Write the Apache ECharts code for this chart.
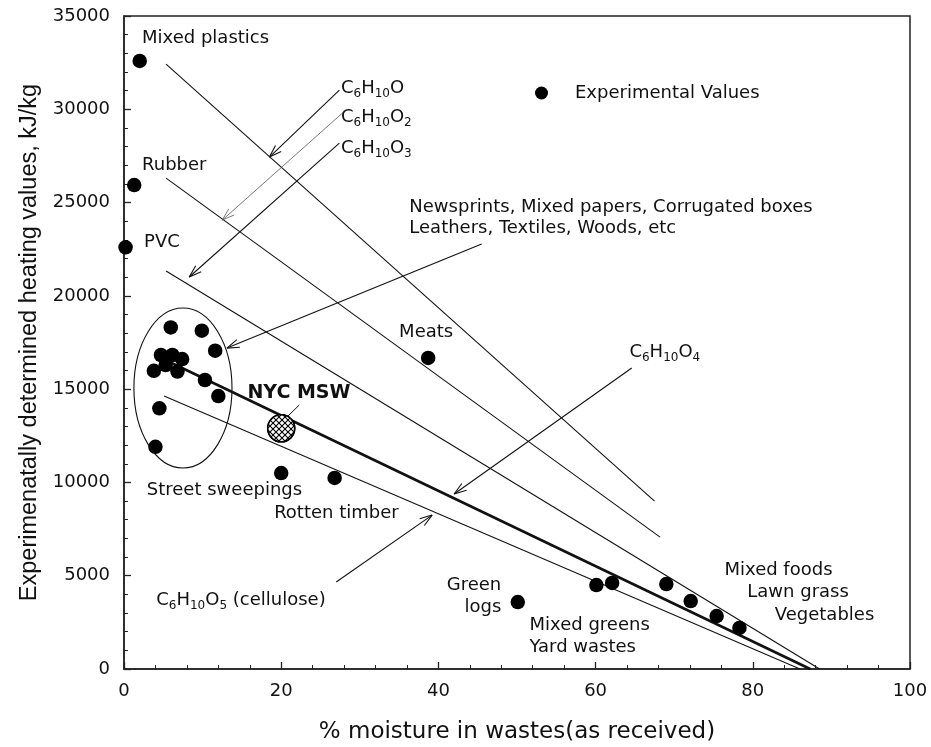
<!DOCTYPE html>
<html><head><meta charset="utf-8">
<script src="https://cdn.jsdelivr.net/npm/echarts@6/dist/echarts.min.js"></script>
<style>html,body{margin:0;padding:0;background:#fff}#c{width:931px;height:747px}</style>
</head><body><div id="c"></div>
<script>
// ---- data (moisture %, heating value kJ/kg) ----
const experimentalValues = [
  [2.0, 32590], [1.3, 25940], [0.2, 22600],
  [5.95, 18310], [9.9, 18130], [11.6, 17060],
  [4.7, 16830], [6.15, 16830], [7.4, 16610], [3.8, 15980], [5.3, 16290], [6.8, 15940],
  [10.3, 15490], [12.0, 14630], [4.5, 13970], [4.0, 11910],
  [38.7, 16670], [20.0, 10500], [26.8, 10240], [50.1, 3590],
  [60.1, 4500], [62.1, 4610], [69.0, 4555], [72.1, 3640], [75.4, 2840], [78.3, 2200]
];
const nycMsw = [[20.0, 12900]];
const lineC6H10O  = [[5.35, 32420], [67.5, 9000]];
const lineC6H10O2 = [[5.35, 26310], [68.2, 7070]];
const lineC6H10O3 = [[5.35, 21330], [88.5, 0]];
const lineC6H10O4 = [[5.0, 16615], [87.3, 0]];
const lineC6H10O5 = [[5.1, 14630], [86.0, 0]];
const xTickLabels = [0, 20, 40, 60, 80, 100];
const yTickLabels = [0, 5000, 10000, 15000, 20000, 25000, 30000, 35000];

const FONT = 'DejaVu Sans';
const chart = echarts.init(document.getElementById('c'), null, {renderer: 'canvas'});

// cross-hatch pattern for NYC MSW
const pc = document.createElement('canvas');
pc.width = 6; pc.height = 6;
const g = pc.getContext('2d');
g.fillStyle = '#fff'; g.fillRect(0, 0, 6, 6);
g.strokeStyle = '#000'; g.lineWidth = 1.1;
g.beginPath(); g.moveTo(0, 0); g.lineTo(6, 6); g.moveTo(6, 0); g.lineTo(0, 6); g.stroke();

function lineSeries(name, data, width) {
  return {
    name: name, type: 'line', data: data, symbol: 'none', silent: true,
    lineStyle: {color: '#111', width: width}, z: 2
  };
}

chart.setOption({
  animation: false,
  backgroundColor: '#fff',
  grid: {left: 124, top: 16, right: 21, bottom: 78, outerBoundsMode: 'none', containLabel: false,
    show: true, borderColor: '#222', borderWidth: 1.5, backgroundColor: 'transparent'},
  legend: {
    data: ['Experimental Values'], left: 530, top: 79, icon: 'circle', itemWidth: 13, itemHeight: 13,
    textStyle: {fontFamily: FONT, fontSize: 18, color: '#111', padding: [0, 0, 0, 22]}
  },
  xAxis: {
    type: 'value', min: 0, max: 100, interval: 20,
    name: '% moisture in wastes(as received)', nameLocation: 'middle', nameGap: 52,
    nameTextStyle: {fontFamily: FONT, fontSize: 23, color: '#111'},
    axisLine: {lineStyle: {color: '#222', width: 1.5}},
    axisTick: {inside: true, length: 7, lineStyle: {color: '#222', width: 1.3}},
    minorTick: {show: true, splitNumber: 5, length: 4, lineStyle: {color: '#222', width: 1}},
    splitLine: {show: false},
    axisLabel: {fontFamily: FONT, fontSize: 18, color: '#111', margin: 13,
      formatter: v => xTickLabels.indexOf(v) >= 0 ? String(v) : ''}
  },
  yAxis: {
    type: 'value', min: 0, max: 35000, interval: 5000,
    name: 'Experimenatally determined heating values, kJ/kg', nameLocation: 'middle', nameGap: 81,
    nameTextStyle: {fontFamily: 'Liberation Sans', fontSize: 23.5, color: '#111'},
    axisLine: {lineStyle: {color: '#222', width: 1.5}},
    axisTick: {inside: true, length: 7, lineStyle: {color: '#222', width: 1.3}},
    minorTick: {show: true, splitNumber: 5, length: 4, lineStyle: {color: '#222', width: 1}},
    splitLine: {show: false},
    axisLabel: {fontFamily: FONT, fontSize: 18, color: '#111', margin: 14,
      formatter: v => yTickLabels.indexOf(v) >= 0 ? String(v) : ''}
  },
  series: [
    lineSeries('C6H10O', lineC6H10O, 1.1),
    lineSeries('C6H10O2', lineC6H10O2, 1.1),
    lineSeries('C6H10O3', lineC6H10O3, 1.1),
    lineSeries('C6H10O4', lineC6H10O4, 2.6),
    lineSeries('C6H10O5', lineC6H10O5, 1.1),
    {name: 'Experimental Values', type: 'scatter', data: experimentalValues, symbolSize: 14.5,
      itemStyle: {color: '#000', opacity: 1}, z: 4},
    {name: 'NYC MSW', type: 'scatter', data: nycMsw, symbolSize: 27,
      itemStyle: {color: '#fff', borderColor: '#000', borderWidth: 1.5, opacity: 1}, z: 5}
  ]
});

// ---- annotations (anchored in data coordinates) ----
const arrows = [
  {from: [27.4, 31030], to: [18.5, 27440], head: true, w: 1.1, c: '#111'},
  {from: [27.8, 29800], to: [12.5, 24060], head: true, w: 0.8, c: '#555'},
  {from: [27.4, 28190], to: [8.3, 21010], head: true, w: 1.1, c: '#111'},
  {from: [45.5, 22780], to: [13.1, 17200], head: true, w: 1.1, c: '#111'},
  {from: [64.6, 16130], to: [42.0, 9380], head: true, w: 1.1, c: '#111'},
  {from: [27.0, 4660], to: [39.2, 8250], head: true, w: 1.1, c: '#111'},
  {from: [22.3, 14150], to: [20.6, 13450], head: false, w: 1, c: '#111'}
];
const sub = (f) => f.replace(/(\d+)/g, '{s|$1}').replace(/([A-Z]+|\(cellulose\)| )/g, (m) => m.trim() === '' ? '{m| }' : '{m|' + m + '}');
const labels = [
  {t: 'Mixed plastics', p: [2.3, 33820]},
  {t: 'Rubber', p: [2.3, 27010]},
  {t: 'PVC', p: [2.55, 22890]},
  {t: 'C6H10O', p: [27.6, 31140], rich: true},
  {t: 'C6H10O2', p: [27.6, 29590], rich: true},
  {t: 'C6H10O3', p: [27.6, 27920], rich: true},
  {t: 'Newsprints, Mixed papers, Corrugated boxes', p: [36.3, 24760]},
  {t: 'Leathers, Textiles, Woods, etc', p: [36.3, 23640]},
  {t: 'Meats', p: [35.0, 18060]},
  {t: 'C6H10O4', p: [64.3, 16990], rich: true},
  {t: 'NYC MSW', p: [15.7, 14790], bold: true},
  {t: 'Street sweepings', p: [2.9, 9590]},
  {t: 'Rotten timber', p: [19.1, 8360]},
  {t: 'C6H10O5 (cellulose)', p: [4.1, 3700], rich: true},
  {t: 'Green', p: [48.0, 4500], align: 'right'},
  {t: 'logs', p: [48.0, 3320], align: 'right'},
  {t: 'Mixed greens', p: [51.6, 2360]},
  {t: 'Yard wastes', p: [51.6, 1180]},
  {t: 'Mixed foods', p: [76.4, 5310]},
  {t: 'Lawn grass', p: [79.3, 4130]},
  {t: 'Vegetables', p: [82.8, 2890]}
];
const ellipse = {center: [7.5, 15060], rx: 6.24, ry: 4290};

function drawAnnotations() {
  const P = (d) => chart.convertToPixel({gridIndex: 0}, d);
  const els = [];
  arrows.forEach(a => {
    const f = P(a.from), t = P(a.to);
    els.push({type: 'line', shape: {x1: f[0], y1: f[1], x2: t[0], y2: t[1]}, style: {stroke: a.c, lineWidth: a.w}, silent: true, z: 10});
    if (a.head) {
      const ang = Math.atan2(t[1] - f[1], t[0] - f[0]);
      const L = 13, s = 0.32;
      [ang + s, ang - s].forEach(b => {
        els.push({type: 'line', shape: {x1: t[0], y1: t[1], x2: t[0] - L * Math.cos(b), y2: t[1] - L * Math.sin(b)},
          style: {stroke: a.c, lineWidth: a.w}, silent: true, z: 10});
      });
    }
  });
  // hatching over the NYC MSW marker
  nycMsw.forEach(d => {
    const q = P(d);
    els.push({type: 'circle', shape: {cx: q[0], cy: q[1], r: 13.5},
      style: {fill: {image: pc, repeat: 'repeat'}, stroke: '#000', lineWidth: 1.6}, silent: true, z: 12});
  });
  const c = P(ellipse.center), e = P([ellipse.center[0] + ellipse.rx, ellipse.center[1] + ellipse.ry]);
  els.push({type: 'ellipse', shape: {cx: c[0], cy: c[1], rx: Math.abs(e[0] - c[0]), ry: Math.abs(e[1] - c[1])},
    style: {fill: null, stroke: '#111', lineWidth: 1.1}, silent: true, z: 10});
  labels.forEach(l => {
    const q = P(l.p);
    const st = {x: q[0], y: q[1], fill: '#111', align: l.align || 'left', verticalAlign: 'middle',
      font: (l.bold ? 'bold ' : '') + (l.bold ? 19 : 18) + 'px "' + FONT + '"'};
    if (l.rich) {
      st.text = sub(l.t);
      st.rich = {
        m: {fontFamily: FONT, fontSize: 18, lineHeight: 24, fill: '#111'},
        s: {fontFamily: FONT, fontSize: 12, lineHeight: 14, verticalAlign: 'bottom', fill: '#111'}
      };
    } else {
      st.text = l.t;
    }
    els.push({type: 'text', style: st, silent: true, z: 11});
  });
  chart.setOption({graphic: {elements: els}}, {replaceMerge: ['graphic']});
}
drawAnnotations();
</script>
</body></html>
